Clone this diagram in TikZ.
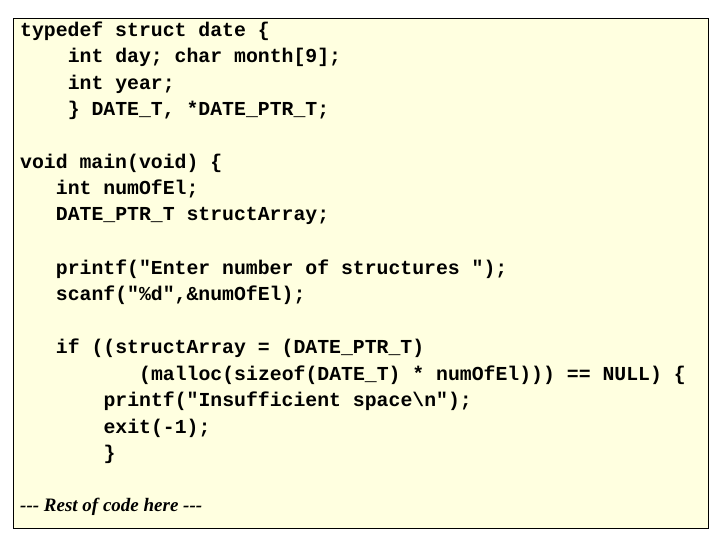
\documentclass[tikz,border=0pt]{standalone}
\usepackage{fontspec}
\setmonofont{Liberation Mono}
\newfontfamily\serifit{Liberation Serif}
\definecolor{paper}{HTML}{FFFFE0}
\begin{document}
\begin{tikzpicture}[x=1pt,y=1pt,
  codeline/.style={anchor=west,inner sep=0pt,font=\fontsize{19.8}{20}\ttfamily\bfseries}]
\useasboundingbox (0,0) rectangle (720,540);
\draw[fill=paper,line width=0.8pt] (13,12) rectangle (708,522) ;
\node[codeline] (l1) at (20,509) {typedef struct date \{};
\node[codeline] (l2) at (67.6,483) {int day; char month[9];};
\node[codeline] (l3) at (67.6,456) {int year;};
\node[codeline] (l4) at (67.6,430) {\} DATE\_T, *DATE\_PTR\_T;};
\node[codeline] (l5) at (20,377) {void main(void) \{};
\node[codeline] (l6) at (55.7,351) {int numOfEl;};
\node[codeline] (l7) at (55.7,324) {DATE\_PTR\_T structArray;};
\node[codeline] (l8) at (55.7,271) {printf("Enter number of structures ");};
\node[codeline] (l9) at (55.7,245) {scanf("\%d",\&numOfEl);};
\node[codeline] (l10) at (55.7,192) {if ((structArray = (DATE\_PTR\_T)};
\node[codeline] (l11) at (139,165) {(malloc(sizeof(DATE\_T) * numOfEl))) == NULL) \{};
\node[codeline] (l12) at (103.3,139) {printf("Insufficient space\textbackslash n");};
\node[codeline] (l13) at (103.3,112) {exit(-1);};
\node[codeline] (l14) at (103.3,86) {\}};
\node[anchor=west,inner sep=0pt,font=\fontsize{19}{20}\serifit\bfseries\itshape] (l15) at (20,33) {--- Rest of code here ---};
\end{tikzpicture}
\end{document}
